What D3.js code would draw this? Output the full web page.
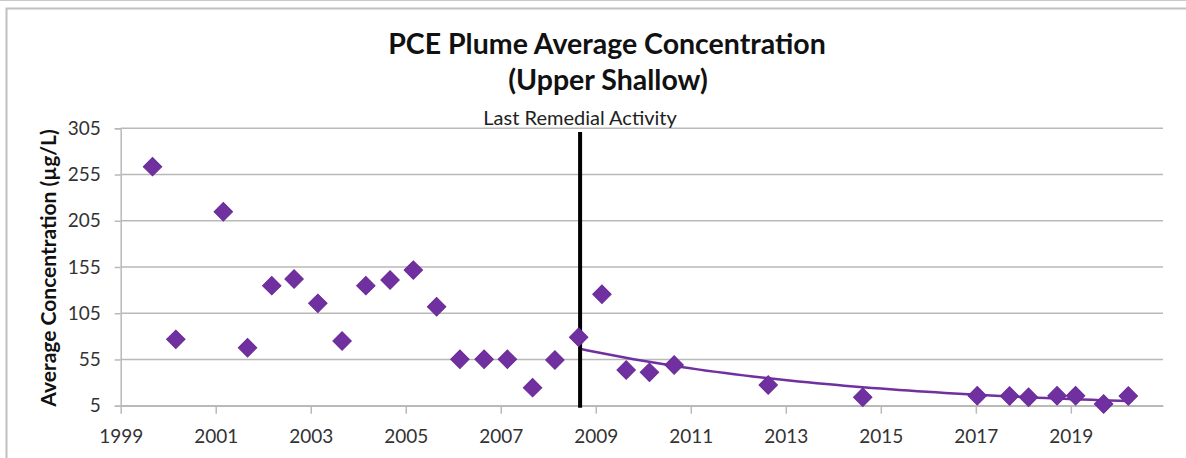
<!DOCTYPE html>
<html>
<head>
<meta charset="utf-8">
<script src="https://cdn.jsdelivr.net/npm/d3@7"></script>
<style>
  body { margin: 0; background: #fff; }
  svg { display: block; font-family: Lato, "Open Sans", sans-serif; }
</style>
</head>
<body>
<svg id="chart" width="1186" height="458"></svg>
<script>
// sample dates (decimal years) and PCE averages (ug/L)
const sampleYears = [
  1999.67, 2000.16, 2001.16, 2001.67, 2002.18, 2002.65, 2003.15, 2003.66,
  2004.16, 2004.67, 2005.16, 2005.65, 2006.14, 2006.65, 2007.14, 2007.67,
  2008.14, 2008.64, 2009.13, 2009.64, 2010.13, 2010.65, 2012.63, 2014.62,
  2017.03, 2017.71, 2018.11, 2018.71, 2019.10, 2019.69, 2020.21
];
const pceValues = [
  263.5, 76.8, 214.8, 67.7, 134.8, 142, 115.7, 75,
  134.8, 140.9, 151.7, 112, 55.2, 55.2, 55.2, 24.5,
  54.4, 79, 125.5, 43.6, 41.1, 49, 27.4, 14.1,
  15.8, 15.5, 14.1, 15.8, 15.8, 6.8, 15.5
];
const yTicks = [5, 55, 105, 155, 205, 255, 305];
const xTicks = [1999, 2001, 2003, 2005, 2007, 2009, 2011, 2013, 2015, 2017, 2019];
const remedialYear = 2008.67;   // "Last Remedial Activity"
const trendFrom = 2008.5;       // exponential trendline fitted on samples after this

const data = sampleYears.map((y, i) => ({ year: y, value: pceValues[i] }));

const svg = d3.select("#chart");
const purple = "#7030a0";
const grid = "#b9b9b9";

// outer frame
svg.append("line").attr("x1", 0).attr("x2", 1186).attr("y1", 0.5).attr("y2", 0.5)
  .attr("stroke", "#c8c8c8");
svg.append("path").attr("d", "M6.5,458V8.5H1186")
  .attr("fill", "none").attr("stroke", "#c0c0c0").attr("stroke-width", 2);

const xScale = d3.scaleLinear().domain([1999, 2020.94]).range([120.7, 1163]);
const yScale = d3.scaleLinear().domain([5, 305]).range([405.7, 128.3]);

// gridlines
svg.append("g").selectAll("line").data(yTicks).join("line")
  .attr("x1", xScale.range()[0]).attr("x2", xScale.range()[1])
  .attr("y1", d => yScale(d)).attr("y2", d => yScale(d))
  .attr("stroke", grid).attr("stroke-width", 1.5);

// y axis
const yAxis = svg.append("g")
  .attr("transform", `translate(${xScale.range()[0]},0)`)
  .call(d3.axisLeft(yScale).tickValues(yTicks).tickSize(6).tickPadding(14));
yAxis.select(".domain").attr("stroke", grid).attr("stroke-width", 1.5);
yAxis.selectAll(".tick line").attr("stroke", grid).attr("stroke-width", 1.5);
yAxis.selectAll(".tick text").attr("fill", "#333")
  .style("font-size", "19px").style("font-family", "Lato");

// x axis
const xAxis = svg.append("g")
  .attr("transform", `translate(0,${yScale(5)})`)
  .call(d3.axisBottom(xScale).tickValues(xTicks).tickFormat(d3.format("d"))
    .tickSize(8).tickPadding(16).tickSizeOuter(0));
xAxis.select(".domain").attr("stroke", grid).attr("stroke-width", 1.5);
xAxis.selectAll(".tick line").attr("stroke", grid).attr("stroke-width", 1.5);
xAxis.selectAll(".tick text").attr("fill", "#333")
  .style("font-size", "19px").style("font-family", "Lato");

// exponential least-squares trendline (like Excel's)
const fitData = data.filter(d => d.year >= trendFrom);
const mx = d3.mean(fitData, d => d.year);
const ml = d3.mean(fitData, d => Math.log(d.value));
const b = d3.sum(fitData, d => (d.year - mx) * (Math.log(d.value) - ml)) /
          d3.sum(fitData, d => (d.year - mx) ** 2);
const trendY = t => Math.exp(ml + b * (t - mx));
const t0 = d3.min(fitData, d => d.year), t1 = d3.max(fitData, d => d.year);
const trendPts = d3.range(0, 61).map(i => t0 + (t1 - t0) * i / 60);
svg.append("path")
  .datum(trendPts)
  .attr("fill", "none").attr("stroke", purple).attr("stroke-width", 2.5)
  .attr("d", d3.line().x(t => xScale(t)).y(t => yScale(trendY(t))));

// remedial activity marker
svg.append("line")
  .attr("x1", xScale(remedialYear)).attr("x2", xScale(remedialYear))
  .attr("y1", 132).attr("y2", yScale(5) + 2)
  .attr("stroke", "#000").attr("stroke-width", 4);
svg.append("text")
  .attr("x", xScale(remedialYear)).attr("y", 125)
  .attr("text-anchor", "middle").attr("fill", "#222")
  .style("font-size", "20px")
  .text("Last Remedial Activity");

// markers
const diamond = d3.symbol().type(d3.symbolSquare).size(170);
svg.append("g").selectAll("path").data(data).join("path")
  .attr("d", diamond)
  .attr("transform", d => `translate(${xScale(d.year)},${yScale(d.value)}) rotate(45)`)
  .attr("fill", purple).attr("stroke", "#6a2c98").attr("stroke-width", 1);

// titles
svg.append("text")
  .attr("x", 607).attr("y", 54).attr("text-anchor", "middle")
  .style("font-size", "28.5px").style("font-weight", "bold").attr("fill", "#111")
  .text("PCE Plume Average Concentration");
svg.append("text")
  .attr("x", 608).attr("y", 90).attr("text-anchor", "middle")
  .style("font-size", "28.5px").style("font-weight", "bold").attr("fill", "#111")
  .text("(Upper Shallow)");

svg.append("text")
  .attr("transform", "translate(56,268) rotate(-90)")
  .attr("text-anchor", "middle").attr("fill", "#111")
  .style("font-size", "21px").style("font-weight", "bold")
  .text("Average Concentration (µg/L)");
</script>
</body>
</html>
